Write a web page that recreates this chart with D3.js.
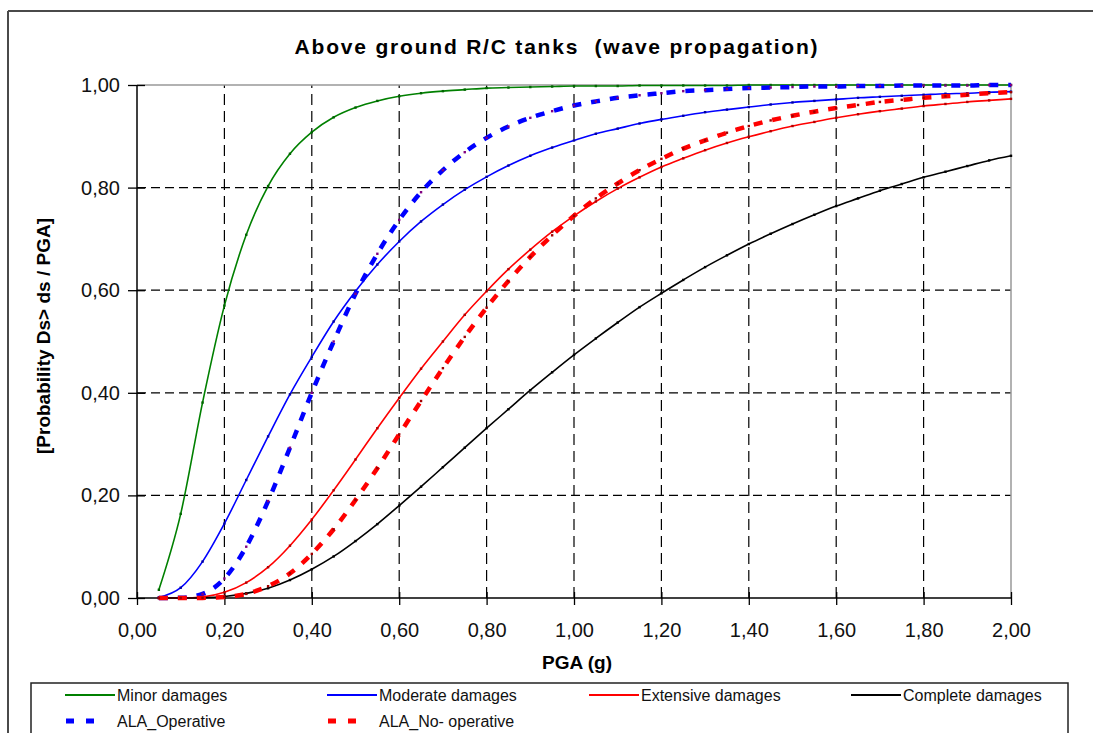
<!DOCTYPE html>
<html>
<head>
<meta charset="utf-8">
<script src="https://cdn.jsdelivr.net/npm/d3@7"></script>
<style>
  body { margin: 0; background: #fff; }
  svg { display: block; font-family: "Liberation Sans", Arial, sans-serif; }
</style>
</head>
<body>
<svg width="1093" height="733"></svg>
<script>
// PGA (g) values of every curve point
const pga = [0.05, 0.10, 0.15, 0.20, 0.25, 0.30, 0.35, 0.40, 0.45, 0.50,
  0.55, 0.60, 0.65, 0.70, 0.75, 0.80, 0.85, 0.90, 0.95, 1.00,
  1.05, 1.10, 1.15, 1.20, 1.25, 1.30, 1.35, 1.40, 1.45, 1.50,
  1.55, 1.60, 1.65, 1.70, 1.75, 1.80, 1.85, 1.90, 1.95, 2.00];

const minor = [0.016, 0.164, 0.381, 0.570, 0.708, 0.803, 0.866, 0.908, 0.937, 0.956,
  0.969, 0.978, 0.984, 0.988, 0.991, 0.994, 0.995, 0.996, 0.997, 0.998,
  0.998, 0.998, 0.999, 0.999, 0.999, 0.999, 0.999, 1, 1, 1,
  1, 1, 1, 1, 1, 1, 1, 1, 1, 1];

const moderate = [0.001, 0.020, 0.071, 0.145, 0.230, 0.315, 0.397, 0.470, 0.539, 0.598,
  0.650, 0.695, 0.734, 0.767, 0.796, 0.821, 0.843, 0.862, 0.878, 0.892,
  0.905, 0.915, 0.925, 0.933, 0.940, 0.947, 0.952, 0.957, 0.962, 0.966,
  0.969, 0.972, 0.975, 0.977, 0.979, 0.981, 0.983, 0.984, 0.986, 0.987];

const extensive = [0, 0.0002, 0.002, 0.011, 0.030, 0.060, 0.102, 0.153, 0.210, 0.270,
  0.331, 0.390, 0.447, 0.500, 0.552, 0.598, 0.641, 0.679, 0.714, 0.745,
  0.773, 0.798, 0.820, 0.840, 0.857, 0.873, 0.887, 0.899, 0.910, 0.920,
  0.928, 0.936, 0.943, 0.949, 0.954, 0.959, 0.963, 0.967, 0.970, 0.973];

const complete = [0, 0, 0.0006, 0.003, 0.009, 0.019, 0.035, 0.056, 0.081, 0.111,
  0.144, 0.180, 0.217, 0.255, 0.293, 0.331, 0.368, 0.405, 0.440, 0.474,
  0.506, 0.537, 0.567, 0.594, 0.620, 0.645, 0.668, 0.690, 0.710, 0.729,
  0.747, 0.764, 0.779, 0.794, 0.807, 0.820, 0.831, 0.842, 0.853, 0.862];

const alaOperative = [0, 0.0005, 0.008, 0.038, 0.100, 0.189, 0.293, 0.400, 0.500, 0.593,
  0.671, 0.737, 0.791, 0.834, 0.869, 0.897, 0.919, 0.936, 0.949, 0.960,
  0.968, 0.975, 0.980, 0.984, 0.988, 0.990, 0.992, 0.994, 0.995, 0.996,
  0.997, 0.997, 0.998, 0.998, 0.999, 0.999, 0.999, 0.999, 1, 1];

const alaNoOperative = [0, 0, 0.0002, 0.002, 0.008, 0.023, 0.048, 0.086, 0.134, 0.191,
  0.253, 0.319, 0.384, 0.448, 0.509, 0.566, 0.618, 0.665, 0.707, 0.745,
  0.779, 0.808, 0.834, 0.856, 0.876, 0.892, 0.907, 0.920, 0.931, 0.940,
  0.948, 0.955, 0.961, 0.967, 0.971, 0.975, 0.978, 0.981, 0.984, 0.986];

const xTicks = [0, 0.2, 0.4, 0.6, 0.8, 1.0, 1.2, 1.4, 1.6, 1.8, 2.0];
const yTicks = [0, 0.2, 0.4, 0.6, 0.8, 1.0];

const series = [
  { name: "Minor damages", values: minor, color: "#008000", dashed: false, dot: "#006400" },
  { name: "Moderate damages", values: moderate, color: "#0000ff", dashed: false, dot: "#0000a0" },
  { name: "Extensive damages", values: extensive, color: "#ff0000", dashed: false, dot: "#b00000" },
  { name: "Complete damages", values: complete, color: "#000000", dashed: false, dot: "#000000" },
  { name: "ALA_Operative", values: alaOperative, color: "#0000ff", dashed: true, dot: "#800080" },
  { name: "ALA_No- operative", values: alaNoOperative, color: "#ff0000", dashed: true, dot: "#a00000" }
];

let svg = d3.select("svg");

let x = d3.scaleLinear().domain([0, 2]).range([137, 1011]);
let y = d3.scaleLinear().domain([0, 1]).range([598, 85]);

let fmt = d => d3.format(".2f")(d).replace(".", ",");

// outer page frame
svg.append("line").attr("x1", 8).attr("x2", 1093).attr("y1", 11).attr("y2", 11)
  .attr("stroke", "#4a4a4a").attr("stroke-width", 2);
svg.append("line").attr("x1", 8).attr("x2", 8).attr("y1", 11).attr("y2", 733)
  .attr("stroke", "#4a4a4a").attr("stroke-width", 2);

// title (keeps the double space)
svg.append("text")
  .attr("x", 557).attr("y", 54)
  .attr("text-anchor", "middle")
  .style("font-size", "21px").style("font-weight", "bold")
  .style("letter-spacing", "1.8px")
  .style("white-space", "pre")
  .text("Above ground R/C tanks  (wave propagation)");

// grid
svg.append("g").selectAll("line")
  .data(xTicks.filter(d => d > 0 && d < 2))
  .join("line")
  .attr("x1", d => x(d)).attr("x2", d => x(d))
  .attr("y1", y(0)).attr("y2", y(1))
  .attr("stroke", "#000").attr("stroke-width", 1.2)
  .attr("stroke-dasharray", "11,6");

svg.append("g").selectAll("line")
  .data(yTicks.filter(d => d > 0 && d < 1))
  .join("line")
  .attr("x1", x(0)).attr("x2", x(2))
  .attr("y1", d => y(d)).attr("y2", d => y(d))
  .attr("stroke", "#000").attr("stroke-width", 1.2)
  .attr("stroke-dasharray", "9,5");

// plot border top / right (gray)
svg.append("line").attr("x1", x(0)).attr("x2", x(2)).attr("y1", y(1)).attr("y2", y(1))
  .attr("stroke", "#999").attr("stroke-width", 1.5);
svg.append("line").attr("x1", x(2)).attr("x2", x(2)).attr("y1", y(1)).attr("y2", y(0))
  .attr("stroke", "#999").attr("stroke-width", 1.5);

// axes
let gx = svg.append("g")
  .attr("transform", `translate(0,${y(0)})`)
  .call(d3.axisBottom(x).tickValues(xTicks).tickSize(7).tickPadding(18).tickFormat(fmt));
gx.select(".domain").remove();
gx.selectAll(".tick line").attr("y1", -6).attr("stroke", "#000").attr("stroke-width", 1.3);
gx.selectAll(".tick text").style("font-size", "20px").attr("fill", "#111")
  .style("font-family", "'Liberation Sans', Arial, sans-serif");

let gy = svg.append("g")
  .attr("transform", `translate(${x(0)},0)`)
  .call(d3.axisLeft(y).tickValues(yTicks).tickSize(9).tickPadding(8).tickFormat(fmt));
gy.select(".domain").remove();
gy.selectAll(".tick line").attr("x1", 8).attr("stroke", "#000").attr("stroke-width", 1.3);
gy.selectAll(".tick text").style("font-size", "20px").attr("fill", "#111")
  .style("font-family", "'Liberation Sans', Arial, sans-serif");

svg.append("line").attr("x1", x(0)).attr("x2", x(0)).attr("y1", y(1)).attr("y2", y(0))
  .attr("stroke", "#000").attr("stroke-width", 1.5);
svg.append("line").attr("x1", x(0)).attr("x2", x(2)).attr("y1", y(0)).attr("y2", y(0))
  .attr("stroke", "#000").attr("stroke-width", 1.5);

// axis titles
svg.append("text")
  .attr("x", 577).attr("y", 669)
  .attr("text-anchor", "middle")
  .style("font-size", "19px").style("font-weight", "bold")
  .text("PGA (g)");

svg.append("text")
  .attr("transform", "translate(50,336) rotate(-90)")
  .attr("text-anchor", "middle")
  .style("font-size", "19px").style("font-weight", "bold")
  .text("[Probability Ds> ds / PGA]");

// curves
let line = d3.line()
  .x((d, i) => x(pga[i]))
  .y(d => y(d))
  .curve(d3.curveMonotoneX);

let plot = svg.append("g");

series.forEach(s => {
  plot.append("path")
    .datum(s.values)
    .attr("fill", "none")
    .attr("stroke", s.color)
    .attr("stroke-width", s.dashed ? 4.5 : 1.6)
    .attr("stroke-dasharray", s.dashed ? "9,10" : null)
    .attr("d", line);

  plot.append("g").selectAll("rect")
    .data(s.values)
    .join("rect")
    .attr("x", (d, i) => x(pga[i]) - 1.2)
    .attr("y", d => y(d) - 1.2)
    .attr("width", 2.4).attr("height", 2.4)
    .attr("fill", s.dot);
});

// legend
let legend = svg.append("g");
legend.append("rect")
  .attr("x", 31).attr("y", 683)
  .attr("width", 1037).attr("height", 60)
  .attr("fill", "none").attr("stroke", "#222").attr("stroke-width", 1.5);

let legendCols = [65, 327, 589, 851];
let legendRows = [695, 721];

series.forEach((s, i) => {
  let col = legendCols[i % 4];
  let row = legendRows[Math.floor(i / 4)];
  let g = legend.append("g");
  if (s.dashed) {
    g.append("line")
      .attr("x1", col + 1).attr("x2", col + 33)
      .attr("y1", row).attr("y2", row)
      .attr("stroke", s.color).attr("stroke-width", 5)
      .attr("stroke-dasharray", "8,12");
  } else {
    g.append("line")
      .attr("x1", col).attr("x2", col + 50)
      .attr("y1", row).attr("y2", row)
      .attr("stroke", s.color).attr("stroke-width", 2.2);
  }
  g.append("text")
    .attr("x", col + 52).attr("y", row + 6)
    .style("font-size", "16px").attr("fill", "#111")
    .text(s.name);
});
</script>
</body>
</html>
